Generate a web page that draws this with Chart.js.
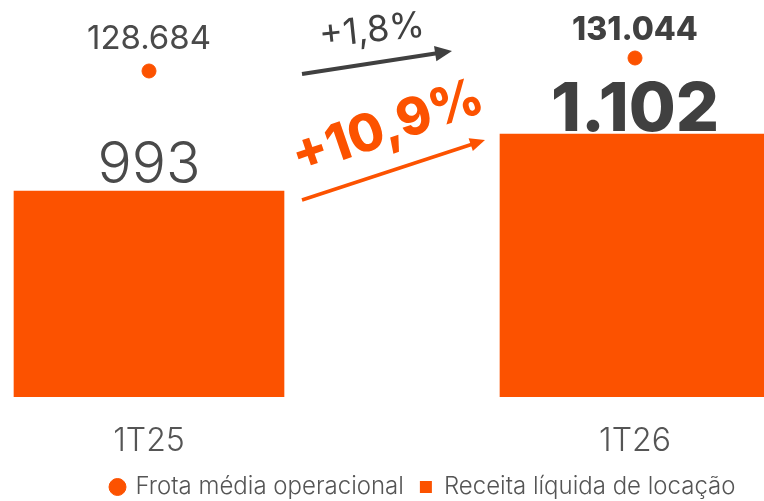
<!DOCTYPE html>
<html>
<head>
<meta charset="utf-8">
<script src="https://cdn.jsdelivr.net/npm/chart.js@4.4.1/dist/chart.umd.min.js"></script>
<style>
  html, body { margin: 0; padding: 0; background: #fff; }
  #frame { width: 764px; height: 501px; position: relative; overflow: hidden; }
  #wrap { position: absolute; left: -94px; top: 8px; width: 1035px; height: 501px; }
</style>
</head>
<body>
<div id="frame"><div id="wrap"><canvas id="receitaChart"></canvas></div></div>
<script>
// periods on the x axis
var periods = ["1T25", "1T26"];
// Receita líquida de locação (bars)
var receita = [993, 1102];
// Frota média operacional (dots)
var frota = [128684, 131044];
// variation shown above the arrows
var frotaChange = "+1,8%";
var receitaChange = "+10,9%";

var orange = "#FC5200";
var darkGray = "#404040";
var midGray = "#4a4a4a";

// 1102 -> "1.102"
function fmt(v) {
    return String(v).replace(/\B(?=(\d{3})+(?!\d))/g, ".");
}

function drawArrow(ctx, x1, y1, x2, y2, color, width, head) {
    var ang = Math.atan2(y2 - y1, x2 - x1);
    ctx.save();
    ctx.strokeStyle = color;
    ctx.fillStyle = color;
    ctx.lineWidth = width;
    ctx.beginPath();
    ctx.moveTo(x1, y1);
    ctx.lineTo(x2 - Math.cos(ang) * head * 0.8, y2 - Math.sin(ang) * head * 0.8);
    ctx.stroke();
    ctx.translate(x2, y2);
    ctx.rotate(ang);
    ctx.beginPath();
    ctx.moveTo(0, 0);
    ctx.lineTo(-head, -head * 0.45);
    ctx.lineTo(-head, head * 0.45);
    ctx.closePath();
    ctx.fill();
    ctx.restore();
}

function drawRotated(ctx, text, x, y, deg, font, color) {
    ctx.save();
    ctx.translate(x, y);
    ctx.rotate(deg * Math.PI / 180);
    ctx.font = font;
    ctx.fillStyle = color;
    ctx.textAlign = "center";
    ctx.textBaseline = "middle";
    ctx.fillText(text, 0, 0);
    ctx.restore();
}

// value labels, arrows and growth figures
var labelsPlugin = {
    id: "valueLabels",
    afterDatasetsDraw: function (chart) {
        var ctx = chart.ctx;
        var dots = chart.getDatasetMeta(0).data;
        var bars = chart.getDatasetMeta(1).data;
        ctx.save();
        ctx.textAlign = "center";
        ctx.textBaseline = "alphabetic";

        ctx.fillStyle = midGray;
        ctx.font = "400 33px Inter";
        ctx.fillText(fmt(frota[0]), dots[0].x, dots[0].y - 22);
        ctx.fillStyle = darkGray;
        ctx.font = "800 32px Inter";
        ctx.fillText(fmt(frota[1]), dots[1].x, dots[1].y - 18);

        ctx.fillStyle = midGray;
        ctx.font = "300 57px Inter";
        ctx.fillText(fmt(receita[0]), bars[0].x, bars[0].y - 8);
        ctx.fillStyle = darkGray;
        ctx.font = "800 68px Inter";
        ctx.fillText(fmt(receita[1]), bars[1].x, bars[1].y - 3);
        ctx.restore();

        var gap0 = bars[0].x + bars[0].width / 2;
        var gap1 = bars[1].x - bars[1].width / 2;
        var mid = (gap0 + gap1) / 2;
        drawArrow(ctx, gap0 + 18, dots[0].y + 3, gap1 - 48, dots[1].y - 7, darkGray, 4, 17);
        drawArrow(ctx, gap0 + 18, bars[0].y + 9, gap1 - 15, bars[1].y + 6, orange, 3.5, 15);

        drawRotated(ctx, frotaChange, mid - 20, dots[0].y - 40, -6, "400 36px Inter", darkGray);
        drawRotated(ctx, receitaChange, mid - 4, bars[0].y - 63, -19, "800 52px Inter", orange);
    }
};

var chartCanvas = document.getElementById("receitaChart");

var receitaChart = new Chart(chartCanvas, {
    type: "bar",
    data: {
        labels: periods,
        datasets: [
            {
                type: "line",
                label: "Frota média operacional",
                data: frota,
                yAxisID: "y2",
                showLine: false,
                pointStyle: "circle",
                pointRadius: 7,
                pointBackgroundColor: orange,
                pointBorderColor: orange,
                backgroundColor: orange,
                borderColor: orange,
            },
            {
                label: "Receita líquida de locação",
                data: receita,
                yAxisID: "y",
                backgroundColor: orange,
                borderWidth: 0,
                barThickness: 270,
                pointStyle: "rect",
            },
        ],
    },
    options: {
        responsive: true,
        maintainAspectRatio: false,
        animation: false,
        layout: { padding: 0, autoPadding: false },
        scales: {
            x: {
                afterFit: function (axis) {
                    axis.height = 62;
                    axis.paddingLeft = 0;
                    axis.paddingRight = 0;
                },
                ticks: {
                    padding: 25,
                    color: "#555",
                    font: { family: "Inter", size: 32, weight: "300" },
                },
                grid: { display: false, drawTicks: false },
                border: { display: false },
            },
            y: {
                display: false,
                beginAtZero: false,
                min: 599,
                max: 1343,
            },
            y2: {
                position: "right",
                beginAtZero: false,
                min: 69503,
                max: 140121,
                // empty strip on the right so the legend sits where it does in the original
                afterFit: function (axis) {
                    axis.width = 63;
                    axis.paddingTop = 0;
                    axis.paddingBottom = 0;
                },
                ticks: { display: false },
                grid: { display: false, drawTicks: false },
                border: { display: false },
            },
        },
        plugins: {
            legend: {
                position: "bottom",
                align: "center",
                labels: {
                    usePointStyle: true,
                    boxWidth: 12,
                    boxHeight: 12,
                    padding: 16,
                    color: "#555",
                    font: { family: "Inter", size: 24, weight: "300" },
                },
            },
            tooltip: { enabled: false },
        },
    },
    plugins: [labelsPlugin],
});
</script>
</body>
</html>
